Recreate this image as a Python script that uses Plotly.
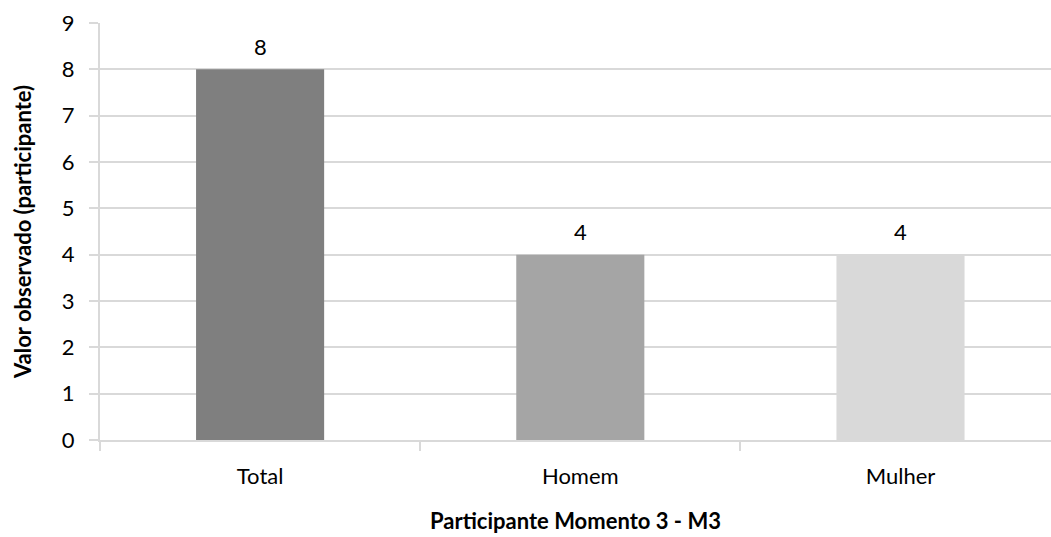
import plotly.graph_objects as go

categories = ["Total", "Homem", "Mulher"]
values = [8, 4, 4]
colors = ["#7f7f7f", "#a5a5a5", "#d9d9d9"]
y_ticks = [0, 1, 2, 3, 4, 5, 6, 7, 8, 9]

FONT = "Lato, Carlito, Calibri, sans-serif"
GRID = "#d9d9d9"
FS = 22

fig = go.Figure(
    go.Bar(
        x=categories,
        y=values,
        marker=dict(color=colors, line=dict(width=0)),
        width=0.4,
        hoverinfo="x+y",
    )
)

for c, v in zip(categories, values):
    fig.add_annotation(
        x=c, y=v, text=str(v), showarrow=False,
        yanchor="middle", yshift=23,
        font=dict(family=FONT, size=FS, color="#000000"),
    )

fig.update_layout(
    width=1051,
    height=537,
    margin=dict(l=100, r=0, t=23, b=97),
    paper_bgcolor="white",
    plot_bgcolor="white",
    showlegend=False,
    font=dict(family=FONT, size=FS, color="#000000"),
)

fig.update_xaxes(
    type="category",
    range=[-0.5, 2.47],
    showgrid=False,
    showline=True,
    linecolor=GRID,
    linewidth=2,
    ticks="outside",
    tickson="boundaries",
    ticklen=9,
    tickcolor=GRID,
    tickwidth=2,
    ticklabelstandoff=16,
    tickfont=dict(family=FONT, size=FS, color="#000000"),
    title=dict(
        text="<b>Participante Momento 3 - M3</b>",
        font=dict(family=FONT, size=FS, color="#000000"),
        standoff=25,
    ),
)

fig.update_yaxes(
    range=[0, 9],
    tickvals=y_ticks,
    showgrid=True,
    gridcolor=GRID,
    gridwidth=2,
    showline=True,
    linecolor=GRID,
    linewidth=2,
    zeroline=False,
    ticks="outside",
    ticklen=9,
    tickcolor=GRID,
    tickwidth=2,
    ticklabelstandoff=10,
    tickfont=dict(family=FONT, size=FS, color="#000000"),
    title=dict(
        text="<b>Valor observado (participante)</b>",
        font=dict(family=FONT, size=FS, color="#000000"),
        standoff=24,
    ),
)

fig.write_html(
    "out.html",
    config={"displayModeBar": False},
    post_script="document.body.style.margin='0';",
)
